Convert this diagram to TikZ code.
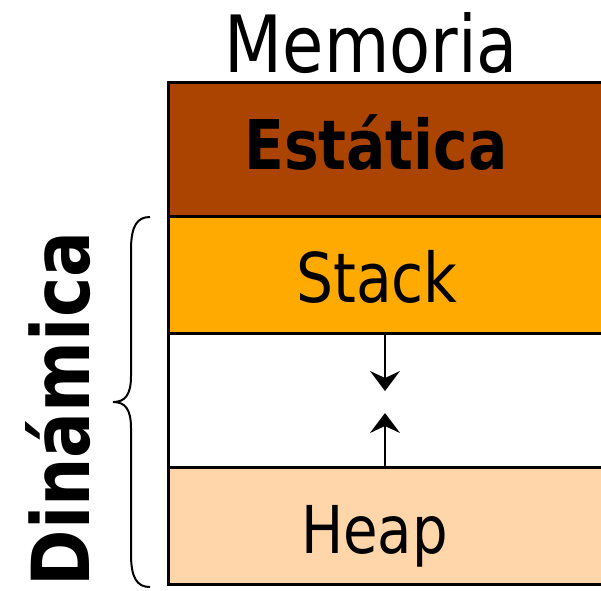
\documentclass[tikz,border=0pt]{standalone}
\usepackage{fontspec}
\setmainfont{DejaVu Sans}[FakeStretch=0.85]
\usetikzlibrary{arrows.meta}
\definecolor{estc}{RGB}{170,68,0}
\definecolor{stkc}{RGB}{255,170,0}
\definecolor{heapc}{RGB}{255,214,170}
\tikzset{
  seg/.style={draw=black, line width=2.5pt, rectangle, anchor=north west,
              minimum width=440pt, inner sep=0pt},
  lbl/.style={anchor=base, inner sep=0pt, font=\fontsize{68.6}{70}\selectfont},
  arr/.style={line width=2pt, -{Stealth[length=20pt,width=30pt,inset=7pt]}},
  brc/.style={line width=2pt},
}
\begin{document}
\begin{tikzpicture}[x=1pt,y=-1pt]
\useasboundingbox (0,0) rectangle (601,590);
% memory segments, top to bottom
\node[seg, fill=estc,  minimum height=134pt] (est)   at (167,81)  {};
\node[seg, fill=stkc,  minimum height=117pt] (stack) at (167,215) {};
\node[seg, fill=white, minimum height=134pt] (free)  at (167,332) {};
\node[seg, fill=heapc, minimum height=117pt] (heap)  at (167,466) {};
% labels
\node[lbl, font=\fontsize{79}{80}\selectfont] (title) at (371.5,72) {Memoria};
\node[lbl, font=\bfseries\fontsize{68.6}{70}\selectfont] (testat) at (376,169) {Estática};
\node[lbl] (tstack) at (377,302) {Stack};
\node[lbl, font=\fontsize{66}{68}\selectfont] (theap) at (374.5,553) {Heap};
\node[anchor=base, inner sep=0pt, rotate=90,
      font=\bfseries\fontsize{80}{82}\selectfont] (tdin) at (89,409) {Dinámica};
% growth arrows
\coordinate (dtip) at (385,391);
\coordinate (utip) at (385,413);
\draw[arr] (stack.south -| dtip) -- (dtip);
\draw[arr] (heap.north -| utip) -- (utip);
% brace grouping the dynamic part
\draw[brc] (150,217) .. controls (137,217) and (131,226) .. (131,250)
  -- (131,376) .. controls (131,395) and (125,402) .. (113,402)
  .. controls (125,402) and (131,409) .. (131,428)
  -- (131,554) .. controls (131,578) and (137,587) .. (150,587);
\end{tikzpicture}
\end{document}
